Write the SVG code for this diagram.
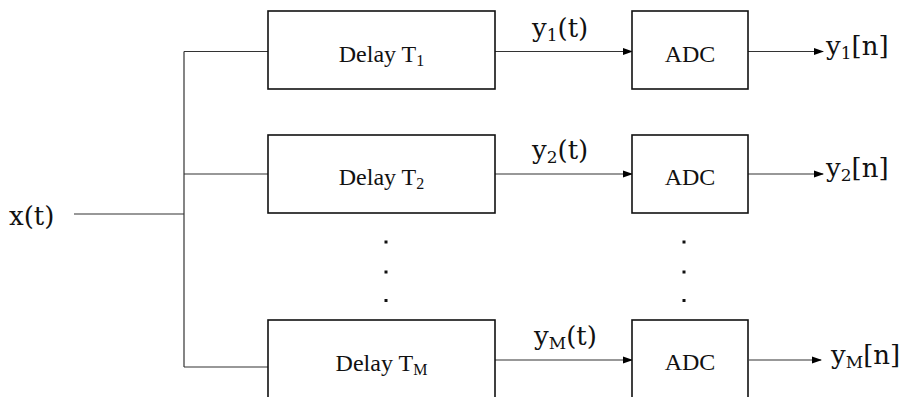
<svg xmlns="http://www.w3.org/2000/svg" width="901" height="397" viewBox="0 0 901 397">
<defs>
<marker id="ah" markerWidth="10" markerHeight="8" refX="9" refY="4" orient="auto" markerUnits="userSpaceOnUse">
<path d="M0,0.5 L10,4 L0,7.5 Z" fill="#000"/>
</marker>
<style>
.box{fill:#fff;stroke:#111;stroke-width:1.6}
.ln{fill:none;stroke:#333;stroke-width:1.2}
.arr{fill:none;stroke:#333;stroke-width:1.2;marker-end:url(#ah)}
.lbl{font-family:"Liberation Serif","Times New Roman",serif;font-size:24px;fill:#111;text-anchor:middle}
.lsub{font-size:16px}
.math{font-family:"DejaVu Serif","Liberation Serif",serif;font-size:26px;fill:#111}
.msub{font-size:17px}
.dot{fill:#111}
</style>
</defs>
<rect width="901" height="397" fill="#fff"/>
<g id="connectors">
<line class="ln" x1="74" y1="214" x2="184" y2="214"/>
<line class="ln" x1="184" y1="51.5" x2="184" y2="367"/>
<line class="ln" x1="184" y1="51.5" x2="268" y2="51.5"/>
<line class="ln" x1="184" y1="174" x2="268" y2="174"/>
<line class="ln" x1="184" y1="367" x2="268" y2="367"/>
<line class="arr" x1="495" y1="51.5" x2="632" y2="51.5"/>
<line class="arr" x1="495" y1="174" x2="632" y2="174"/>
<line class="arr" x1="495" y1="360" x2="632" y2="360"/>
<line class="arr" x1="748" y1="51.5" x2="823" y2="51.5"/>
<line class="arr" x1="748" y1="174" x2="823" y2="174"/>
<line class="arr" x1="749" y1="360" x2="821" y2="360"/>
<text class="math" x="532" y="37">y<tspan class="msub" dy="4">1</tspan><tspan dy="-4">(t)</tspan></text>
<text class="math" x="532" y="159">y<tspan class="msub" dy="4">2</tspan><tspan dy="-4">(t)</tspan></text>
<text class="math" x="534" y="345">y<tspan class="msub" dy="4">M</tspan><tspan dy="-4">(t)</tspan></text>
</g>
<g id="input">
<text class="math" x="9" y="225">x(t)</text>
</g>
<g id="delay1">
<rect class="box" x="268" y="11" width="227" height="78"/>
<text class="lbl" x="381.5" y="61.5">Delay T<tspan class="lsub" dy="4">1</tspan></text>
</g>
<g id="delay2">
<rect class="box" x="268" y="135" width="227" height="78"/>
<text class="lbl" x="381.5" y="185">Delay T<tspan class="lsub" dy="4">2</tspan></text>
</g>
<g id="delayM">
<rect class="box" x="268" y="320" width="227" height="100"/>
<text class="lbl" x="381.5" y="371">Delay T<tspan class="lsub" dy="4">M</tspan></text>
</g>
<g id="adc1">
<rect class="box" x="632" y="11" width="116" height="78"/>
<text class="lbl" x="690" y="62">ADC</text>
</g>
<g id="adc2">
<rect class="box" x="632" y="135" width="116" height="78"/>
<text class="lbl" x="690" y="185">ADC</text>
</g>
<g id="adcM">
<rect class="box" x="632" y="320" width="116" height="100"/>
<text class="lbl" x="690" y="370">ADC</text>
</g>
<g id="out1">
<text class="math" x="826" y="55">y<tspan class="msub" dy="4">1</tspan><tspan dy="-4">[n]</tspan></text>
</g>
<g id="out2">
<text class="math" x="826" y="177">y<tspan class="msub" dy="4">2</tspan><tspan dy="-4">[n]</tspan></text>
</g>
<g id="outM">
<text class="math" x="831" y="364">y<tspan class="msub" dy="4">M</tspan><tspan dy="-4">[n]</tspan></text>
</g>
<g id="dots">
<rect class="dot" x="384.5" y="240.5" width="3" height="3"/>
<rect class="dot" x="384.5" y="270.5" width="3" height="3"/>
<rect class="dot" x="384.5" y="299" width="3" height="3"/>
<rect class="dot" x="682.5" y="240.5" width="3" height="3"/>
<rect class="dot" x="682.5" y="270.5" width="3" height="3"/>
<rect class="dot" x="682.5" y="299" width="3" height="3"/>
</g>
</svg>
